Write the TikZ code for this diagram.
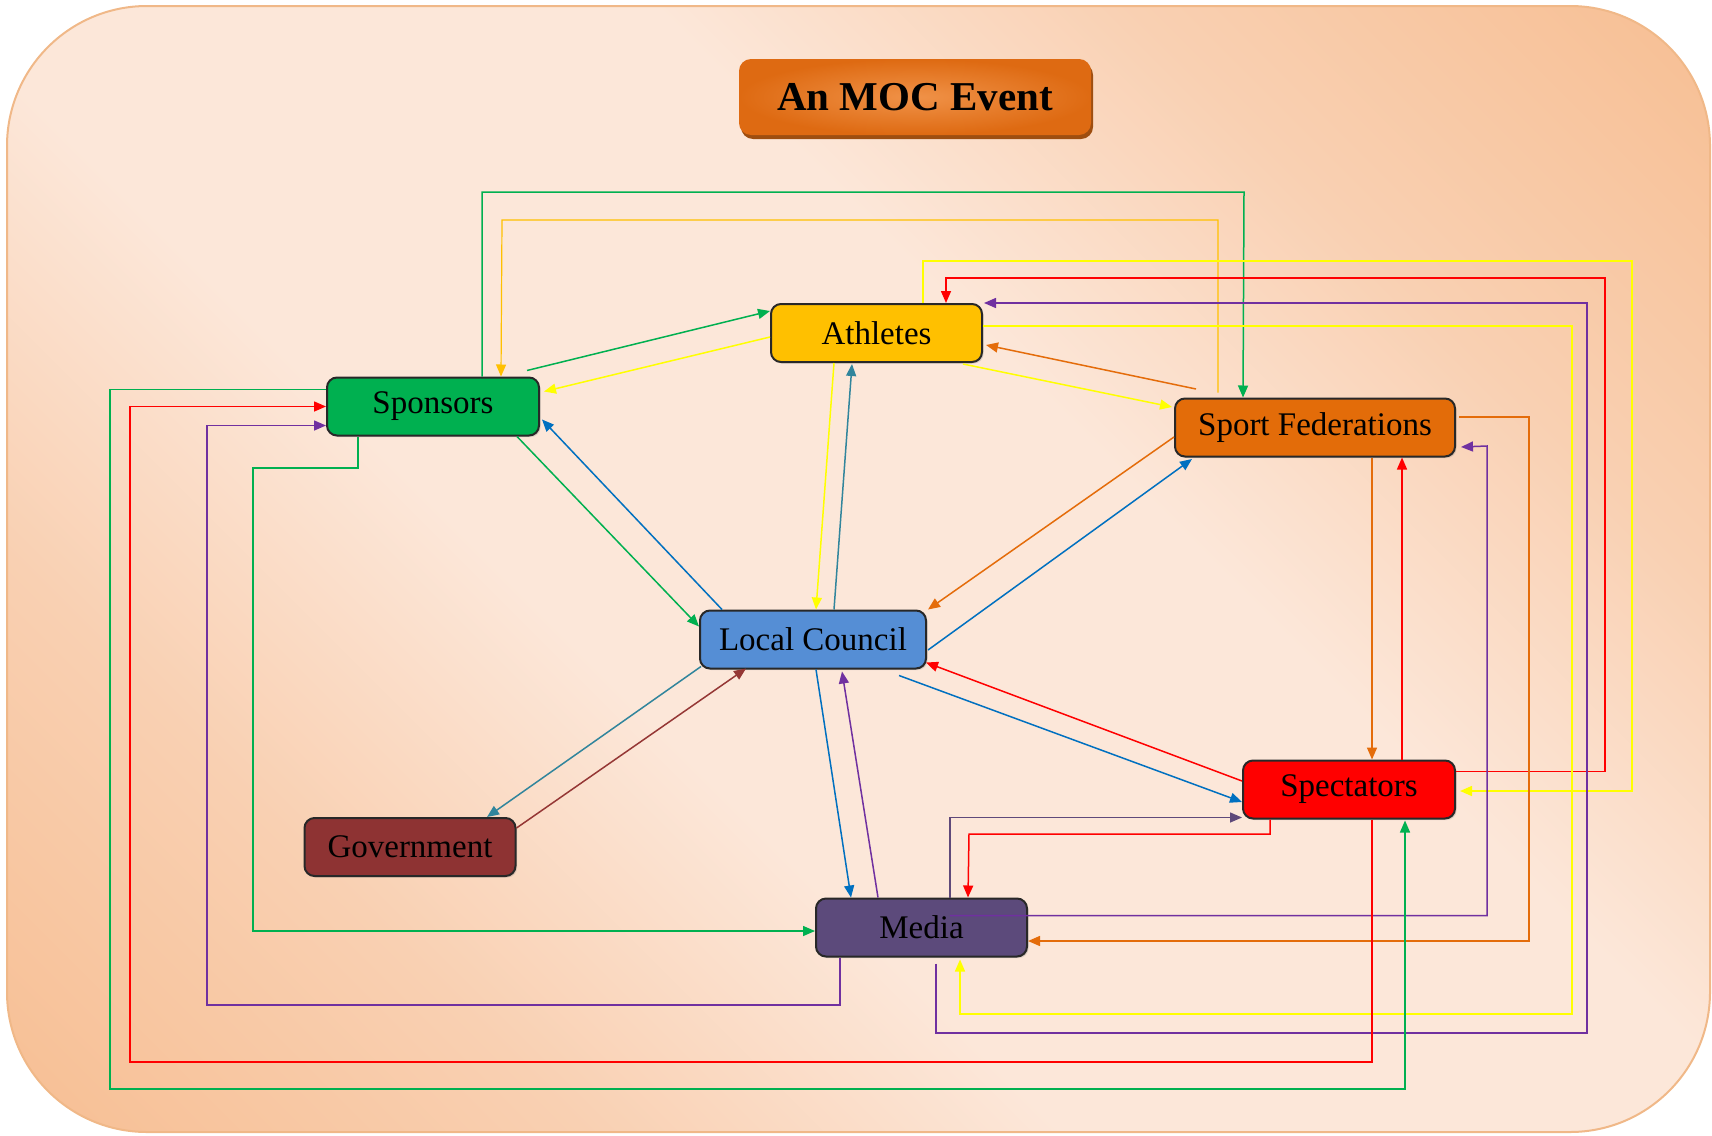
\documentclass[tikz,border=0pt]{standalone}
\usepackage{fontspec}
\setmainfont{Liberation Serif}
\usetikzlibrary{arrows.meta,calc,shadows}

\definecolor{cGreen}{HTML}{00B050}
\definecolor{cGold}{HTML}{FFC000}
\definecolor{cYellow}{HTML}{FFFF00}
\definecolor{cRed}{HTML}{FF0000}
\definecolor{cPurple}{HTML}{7030A0}
\definecolor{cOrange}{HTML}{E46C0A}
\definecolor{cBlue}{HTML}{0070C0}
\definecolor{cTeal}{HTML}{31859C}
\definecolor{cBrown}{HTML}{953735}
\definecolor{cSlate}{HTML}{5F497A}
\definecolor{fAth}{HTML}{FFC000}
\definecolor{fSpo}{HTML}{00B050}
\definecolor{fSF}{HTML}{E36C09}
\definecolor{fLC}{HTML}{558ED5}
\definecolor{fGov}{HTML}{8E3333}
\definecolor{fSpe}{HTML}{FF0000}
\definecolor{fMed}{HTML}{5C4A7B}
\definecolor{bgDark}{HTML}{F7BF94}
\definecolor{bgMid}{HTML}{F9D0B2}
\definecolor{bgLight}{HTML}{FCE7D9}
\definecolor{bgEdge}{HTML}{F0B888}
\definecolor{tInner}{HTML}{F09248}
\definecolor{tOuter}{HTML}{DE6A12}
\definecolor{tShadow}{HTML}{9E4E10}

\pgfdeclareverticalshading{bgshade}{100bp}{color(0bp)=(bgDark); color(15bp)=(bgDark);
  color(29bp)=(bgMid); color(41bp)=(bgLight); color(59bp)=(bgLight);
  color(71bp)=(bgMid); color(85bp)=(bgDark); color(100bp)=(bgDark)}

\begin{document}
\begin{tikzpicture}[x=0.5pt,y=-0.5pt,
  box/.style={draw={rgb,255:red,40;green,40;blue,40}, line width=1pt,
    rounded corners=5pt, minimum height=29pt, inner sep=0pt,
    font=\fontsize{16.5}{18}\selectfont, text=black,
    drop shadow={opacity=0.25, shadow xshift=0.8pt, shadow yshift=-0.8pt}},
  link/.style={line width=0.75pt, -{Triangle[length=6pt,width=5pt]}},
  titlebox/.style={rounded corners=6pt, minimum width=176pt, minimum height=38pt,
    inner sep=0pt, inner color=tInner, outer color=tOuter,
    font=\fontsize{20.5}{24}\selectfont\bfseries, text=black,
    drop shadow={fill=tShadow, opacity=1, shadow xshift=1pt, shadow yshift=-2pt}},
]
\useasboundingbox (0,0) rectangle (1712,1135);
\shade[shading=bgshade, shading angle=-45, rounded corners=70pt] (7,6) rectangle (1710,1132);
\draw[bgEdge, line width=1pt, rounded corners=70pt] (7,6) rectangle (1710,1132);

\node[titlebox] (title) at (915,97) {An MOC Event};

\node[box, fill=fAth, minimum width=105.5pt] (ath) at (876.5,333) {Athletes};
\node[box, fill=fSpo, minimum width=106pt] (spo) at (433,406.5) {Sponsors};
\node[box, fill=fSF, minimum width=140pt] (sf) at (1315,427.5) {Sport Federations};
\node[box, fill=fLC, minimum width=113pt] (lc) at (813,639.5) {Local Council};
\node[box, fill=fMed, minimum width=105.5pt] (med) at (921.5,927.5) {Media};
\node[box, fill=fSpe, minimum width=106pt] (spe) at (1349,789.5) {Spectators};
\node[box, fill=fGov, minimum width=105.5pt] (gov) at (410,847) {Government};

% routed connectors
\draw[link, cGreen] ($(spo.north west)+(156,0)$) |- (1244,192) -- ($(sf.north west)+(69,0)$);
\draw[link, cGold, line width=0.6pt] ($(sf.north west)+(44,-5)$) |- (502,220) -- ($(spo.north west)+(175,0)$);
\draw[link, cYellow] ($(ath.north west)+(153,0)$) |- (1632,261) |- ($(spe.east)+(4,1.5)$);
\draw[link, cRed] ($(spe.north east)+(0,12)$) -| (1605,278) -| ($(ath.north west)+(176,0)$);
\draw[link, cPurple] ($(med.south west)+(121,6)$) |- (1587,1033) |- ($(ath.north east)+(1,0)$);
\draw[link, cYellow] ($(ath.north east)+(0,23)$) -| (1572,1014) -| ($(med.south west)+(145,2)$);
\draw[link, cOrange] ($(sf.north east)+(3,19.5)$) -| (1529,941) -- ($(med.east)+(0,13.5)$);
\draw[link, cPurple] ($(med.north west)+(135,18)$) -| (1487,446) -- ($(sf.south east)+(5,-10.5)$);
\draw[link, cRed] ($(spe.south west)+(28,0)$) |- (969,834) -- ($(med.north west)+(153,0)$);
\draw[link, cSlate] ($(med.north west)+(135,0)$) |- ($(spe.south west)+(0,-2)$);
\draw[link, cOrange] ($(sf.south west)+(198,0)$) -- ($(spe.north west)+(130,0)$);
\draw[link, cRed] ($(spe.north west)+(160,0)$) -- ($(sf.south west)+(228,0)$);
\draw[link, cRed] ($(spe.south west)+(130,0)$) |- (130,1062) |- (spo.west);
\draw[link, cGreen] ($(spo.north west)+(0,13)$) -| (110,1089) -| ($(spe.south west)+(163,1)$);
\draw[link, cPurple] ($(med.south west)+(25,0)$) |- (207,1005) |- ($(spo.south west)+(0,-11)$);
\draw[link, cGreen] ($(spo.south west)+(32,0)$) |- (253,468) |- ($(med.west)+(0,3.5)$);

% straight connectors
\draw[link, cGreen] ($(spo.north east)+(-13,-6)$) -- ($(ath.north west)+(0,8)$);
\draw[link, cYellow] ($(ath.west)+(0,4)$) -- ($(spo.north east)+(4,15)$);
\draw[link, cOrange] ($(sf.north west)+(22,-8.5)$) -- ($(ath.north east)+(3,42)$);
\draw[link, cYellow] ($(ath.south east)+(-20,1)$) -- ($(sf.north west)+(-2,9.5)$);
\draw[link, cGreen] ($(spo.south east)+(-23,0)$) -- ($(lc.north west)+(0,17)$);
\draw[link, cBlue] ($(lc.north west)+(23,0)$) -- ($(spo.south east)+(2,-17)$);
\draw[link, cYellow] ($(ath.south west)+(64,0)$) -- ($(lc.north west)+(117,0)$);
\draw[link, cTeal] ($(lc.north west)+(135,0)$) -- ($(ath.south west)+(82,1)$);
\draw[link, cOrange] ($(sf.west)+(0,9.5)$) -- ($(lc.north east)+(1,0)$);
\draw[link, cBlue] ($(lc.east)+(1,10.5)$) -- ($(sf.south west)+(18,1.5)$);
\draw[link, cBlue] ($(lc.south east)+(-28,6)$) -- ($(spe.west)+(0,12.5)$);
\draw[link, cRed] ($(spe.west)+(0,-8.5)$) -- ($(lc.south east)+(-1,-7)$);
\draw[link, cBlue] ($(lc.south west)+(117,0)$) -- ($(med.north west)+(36,0)$);
\draw[link, cPurple] ($(med.north west)+(63,0)$) -- ($(lc.south west)+(143,2)$);
\draw[link, cTeal] ($(lc.south west)+(2,-3)$) -- ($(gov.north west)+(183.5,0)$);
\draw[link, cBrown] ($(gov.north east)+(0,11)$) -- ($(lc.south west)+(47,-1)$);
\end{tikzpicture}
\end{document}
